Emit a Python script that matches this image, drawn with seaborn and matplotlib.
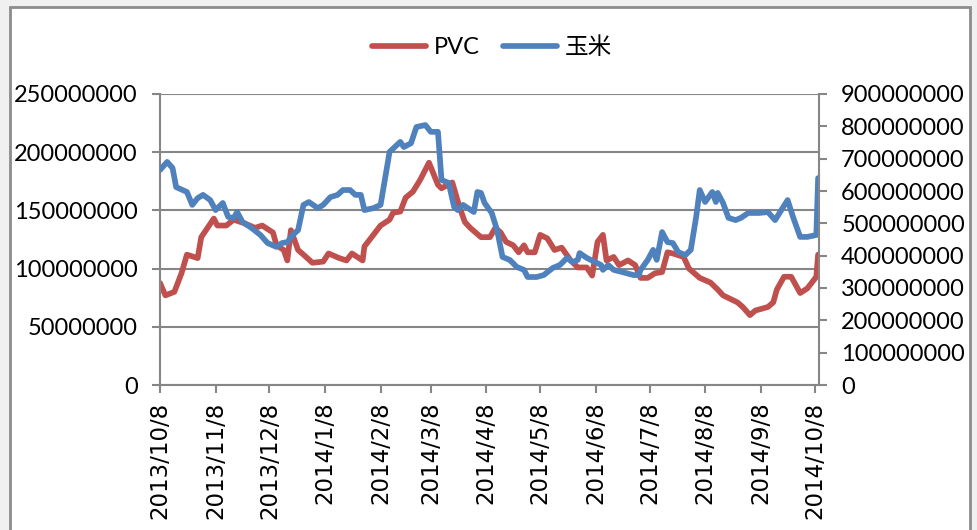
import pandas as pd
import matplotlib.pyplot as plt
from matplotlib.patches import Rectangle
import seaborn as sns

sns.set_style("white")
plt.rcParams['font.family'] = ['Lato', 'Noto Sans CJK SC', 'DejaVu Sans']
plt.rcParams['text.color'] = 'black'
plt.rcParams['xtick.color'] = 'black'
plt.rcParams['ytick.color'] = 'black'

start = pd.Timestamp('2013-10-08')

# PVC (left axis), days since 2013/10/8 and value
pvc_days = [0, 3, 8, 12, 15, 21, 23, 30, 32, 37, 41, 47, 53, 57, 63, 65, 69, 71, 73, 77,
            80, 85, 91, 94, 100, 104, 107, 113, 114, 123, 128, 130, 134, 137, 141, 145, 150,
            155, 157, 163, 167, 170, 173, 179, 184, 187, 190, 193, 197, 200, 203, 205, 209,
            212, 216, 220, 224, 229, 233, 238, 241, 244, 247, 249, 253, 256, 261, 265, 268,
            272, 276, 280, 283, 286, 292, 295, 301, 307, 311, 314, 322, 325, 329, 332, 339,
            342, 344, 348, 352, 357, 361, 366, 367]
pvc_vals = [87.6, 77, 80, 96, 112, 109, 127, 143, 137, 137, 142, 139, 135, 137, 131, 120, 116,
            107, 133, 116, 112, 105, 106, 113, 109, 107, 113, 107, 119, 137, 142, 148, 149, 161,
            166, 176, 191, 172, 169, 174, 153, 140, 135, 127, 127, 135, 131, 123, 120, 114, 120,
            114, 114, 129, 126, 116, 118, 107, 101, 101, 94, 123, 129, 107, 110, 103, 107, 103,
            92, 92, 96, 97, 114, 113, 110, 100, 92, 88, 82, 77, 71, 67, 60, 64, 67, 71, 82, 93,
            93, 79, 83, 93, 112]

# 玉米 (right axis)
corn_days = [0, 4, 7, 9, 15, 18, 21, 24, 28, 31, 35, 38, 41, 43, 46, 51, 56, 60, 65, 68, 71,
             74, 77, 80, 83, 88, 91, 95, 99, 102, 106, 109, 112, 114, 119, 123, 127, 128, 134,
             136, 140, 143, 148, 151, 155, 157, 161, 164, 166, 169, 175, 177, 179, 181, 185,
             188, 191, 195, 199, 203, 205, 210, 214, 219, 223, 227, 230, 233, 234, 238, 246,
             247, 250, 253, 258, 264, 267, 268, 272, 275, 277, 280, 283, 286, 289, 293, 296,
             299, 301, 304, 308, 310, 311, 314, 317, 321, 324, 328, 334, 339, 343, 350, 353,
             357, 361, 366, 367]
corn_vals = [665, 690, 671, 612, 597, 557, 578, 588, 572, 541, 563, 520, 516, 535, 504, 486,
             464, 439, 427, 439, 442, 464, 479, 557, 566, 547, 557, 581, 588, 603, 603, 588,
             588, 541, 547, 557, 687, 721, 752, 736, 748, 798, 804, 783, 783, 634, 625, 551,
             541, 557, 535, 597, 594, 563, 532, 479, 396, 387, 365, 356, 334, 334, 340, 362,
             371, 393, 380, 387, 408, 393, 371, 356, 371, 356, 349, 340, 340, 356, 387, 418,
             387, 473, 442, 439, 411, 402, 418, 520, 603, 566, 597, 566, 594, 563, 517, 510,
             517, 532, 532, 535, 510, 572, 520, 458, 458, 464, 640]

left_ticks = [0, 50000000, 100000000, 150000000, 200000000, 250000000]
right_ticks = [i * 100000000 for i in range(10)]
x_labels = ['2013/10/8', '2013/11/8', '2013/12/8', '2014/1/8', '2014/2/8', '2014/3/8', '2014/4/8',
            '2014/5/8', '2014/6/8', '2014/7/8', '2014/8/8', '2014/9/8', '2014/10/8']

pvc_df = pd.DataFrame({'date': [start + pd.Timedelta(days=d) for d in pvc_days],
                       'value': [v * 1e6 for v in pvc_vals]})
corn_df = pd.DataFrame({'date': [start + pd.Timedelta(days=d) for d in corn_days],
                        'value': [v * 1e6 for v in corn_vals]})

red = '#C0504D'
blue = '#4F81BD'
gray = '#868686'

fig = plt.figure(figsize=(9.78, 5.30), dpi=100, facecolor='#F0F0F0')
fig.patches.append(Rectangle((10 / 978, -0.05), 960 / 978, 1 - 7 / 530 + 0.05,
                             transform=fig.transFigure, facecolor='white',
                             edgecolor='#8C8C8C', linewidth=2, zorder=-10))
ax = fig.add_axes([160 / 978, 1 - 385 / 530, 659 / 978, 291 / 530])
ax.set_facecolor('none')
ax2 = ax.twinx()
ax2.set_facecolor('none')

sns.lineplot(data=pvc_df, x='date', y='value', ax=ax, color=red, linewidth=4.1, label='PVC',
             legend=False, solid_joinstyle='round', solid_capstyle='round')
sns.lineplot(data=corn_df, x='date', y='value', ax=ax2, color=blue, linewidth=4.1, label='玉米',
             legend=False, solid_joinstyle='round', solid_capstyle='round')

ax.set_yticks(left_ticks)
ax.set_yticklabels([str(t) for t in left_ticks])
ax2.set_yticks(right_ticks)
ax2.set_yticklabels([str(t) for t in right_ticks])
ax.set_ylim(0, 250000000)
ax2.set_ylim(0, 900000000)

xticks = [pd.Timestamp(s.replace('/', '-')) for s in x_labels]
ax.set_xticks(xticks)
ax.set_xticklabels(x_labels, rotation=90, family=['DejaVu Sans'], fontsize=16.5)
ax.set_xlim(start, start + pd.Timedelta(days=367.5))

ax.yaxis.grid(True, color=gray, linewidth=1.5)
ax.set_axisbelow(True)
for a in (ax, ax2):
    a.set_xlabel('')
    a.set_ylabel('')
    for s in a.spines.values():
        s.set_visible(False)
ax.spines['left'].set_visible(True)
ax.spines['left'].set_color(gray)
ax.spines['left'].set_linewidth(1.5)
ax.spines['bottom'].set_visible(True)
ax.spines['bottom'].set_color(gray)
ax.spines['bottom'].set_linewidth(1.5)
ax2.spines['right'].set_visible(True)
ax2.spines['right'].set_color(gray)
ax2.spines['right'].set_linewidth(1.5)

ax.tick_params(axis='y', labelsize=17, length=6, width=1.5, color=gray, labelcolor='black', pad=10, left=True)
ax.tick_params(axis='x', length=6, width=1.5, color=gray, labelcolor='black', pad=6, bottom=True)
ax2.tick_params(axis='y', labelsize=17, length=6, width=1.5, color=gray, labelcolor='black', pad=10, right=True)

h1, l1 = ax.get_legend_handles_labels()
h2, l2 = ax2.get_legend_handles_labels()
fig.legend(h1 + h2, l1 + l2, loc='center', bbox_to_anchor=(492 / 978, 1 - 47 / 530), ncol=2,
           frameon=False, fontsize=17, handlelength=2.3, handletextpad=0.3, columnspacing=1.0,
           labelcolor='black')

fig.savefig('out.png', dpi=100, facecolor=fig.get_facecolor())
